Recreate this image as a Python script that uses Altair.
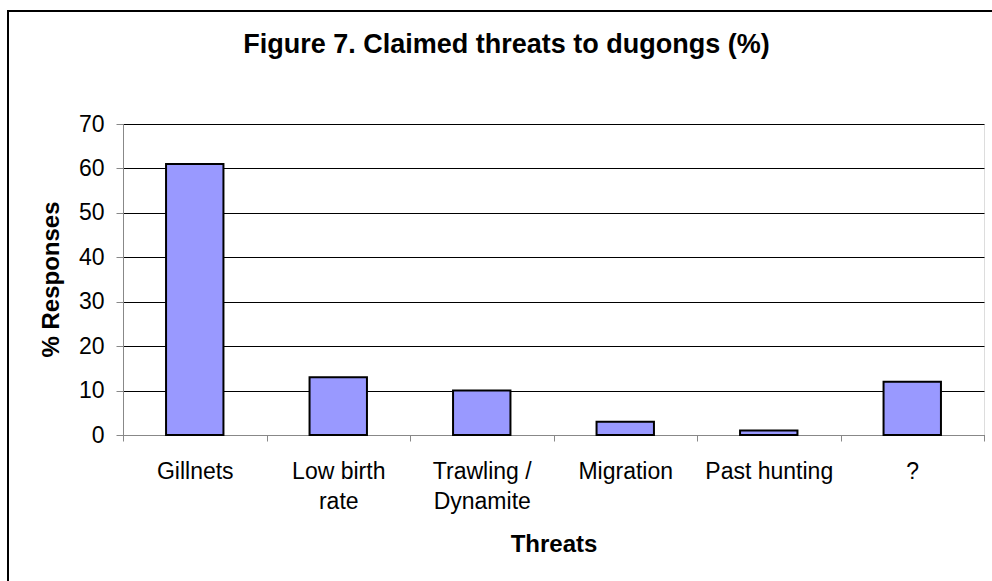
import altair as alt
import pandas as pd

# Survey results: share of responses naming each threat
threats = ["Gillnets", "Low birth\nrate", "Trawling /\nDynamite", "Migration", "Past hunting", "?"]
responses = [61, 13, 10, 3, 1, 12]
y_ticks = [0, 10, 20, 30, 40, 50, 60, 70]

df = pd.DataFrame({"threat": threats, "pct": responses})

FONT = "Liberation Sans"
AXIS_GREY = "#404040"

bars = alt.Chart(df).mark_bar(
    color="#9999FF",
    stroke="#000000",
    strokeWidth=2,
    width=alt.RelativeBandSize(0.4),
).encode(
    x=alt.X(
        "threat:N",
        sort=threats,
        scale=alt.Scale(paddingInner=0, paddingOuter=0),
        axis=alt.Axis(
            title="Threats",
            labelAngle=0,
            labelExpr="split(datum.label, '\\n')",
            labelLineHeight=30,
            labelFontSize=23,
            labelPadding=19,
            labelOverlap=False,
            tickBand="extent",
            tickSize=6,
            titleFontSize=24,
            titleY=116,
            titleBaseline="alphabetic",
            grid=False,
        ),
    ),
    y=alt.Y(
        "pct:Q",
        scale=alt.Scale(domain=[0, 70], nice=False),
        axis=alt.Axis(
            values=y_ticks,
            title="% Responses",
            labelFontSize=23,
            labelPadding=12,
            tickSize=7,
            titleFontSize=24,
            titleX=-65,
            titleY=155,
            titleAlign="center",
            titleBaseline="alphabetic",
            grid=True,
            gridColor="#000000",
            gridWidth=1,
        ),
    ),
)

# Outer frame around the whole figure
frame = alt.Chart(pd.DataFrame({"k": [0]})).mark_rect(
    fillOpacity=0, stroke="#000000", strokeWidth=2
).encode(
    x=alt.value(-115), x2=alt.value(890),
    y=alt.value(-113), y2=alt.value(470),
)

chart = alt.layer(frame, bars).properties(
    width=861,
    height=311,
    autosize=alt.AutoSizeParams(type="none"),
    padding={"left": 123, "top": 124, "right": 8, "bottom": 146},
    title=alt.Title(
        "Figure 7. Claimed threats to dugongs (%)",
        font=FONT,
        fontSize=27,
        fontWeight="bold",
        color="#000000",
        anchor="middle",
        frame="group",
        dx=-47,
        dy=70,
        baseline="alphabetic",
        offset=0,
    ),
).configure_view(
    stroke="#808080", strokeWidth=2
).configure_axis(
    labelFont=FONT,
    titleFont=FONT,
    labelColor="#000000",
    titleColor="#000000",
    titleFontWeight="bold",
    domainColor=AXIS_GREY,
    domainWidth=1.5,
    tickColor=AXIS_GREY,
    tickWidth=1.5,
).configure(background="#ffffff")

chart.save("out.html", embed_options={"renderer": "svg", "actions": False})
